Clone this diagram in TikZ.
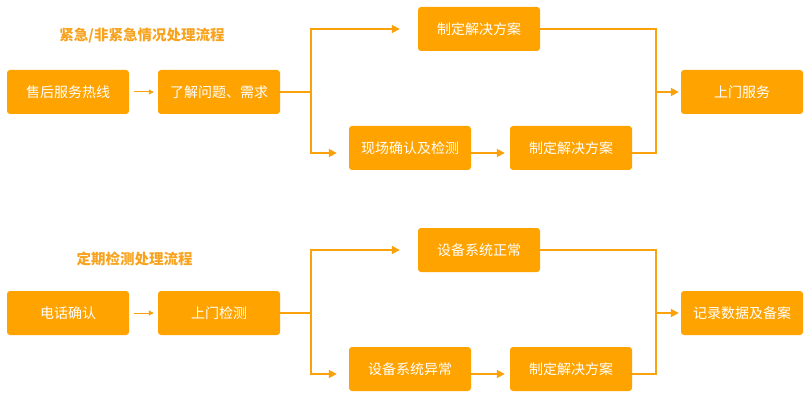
\documentclass[tikz,border=0pt]{standalone}
\usepackage{fontspec}
\setmainfont{Noto Sans CJK SC}
\usetikzlibrary{arrows.meta}
\definecolor{boxorange}{HTML}{FFA300}
\definecolor{lineorange}{HTML}{F9A20C}
\definecolor{titleorange}{HTML}{F7A320}

\begin{document}
\begin{tikzpicture}[x=1pt,y=-1pt,>={Triangle[length=8pt,width=8pt]},
  box/.style={rectangle,rounded corners=3pt,fill=boxorange,text=white,minimum width=122pt,minimum height=44pt,inner sep=0pt,font=\fontsize{14}{17}\selectfont},
  heading/.style={text=titleorange,font=\fontsize{14.5}{17}\selectfont\bfseries},
  link/.style={draw=lineorange,line width=1.8pt},
  thin link/.style={draw=lineorange,line width=1pt,-{Triangle[length=5pt,width=5pt]}}]
  \useasboundingbox (0,0) rectangle (810,398);
  % first flow
  \node[heading] (t1) at (142,36) {紧急/非紧急情况处理流程};
  \node[box] (a1) at (68,92) {售后服务热线};
  \node[box] (a2) at (219,92) {了解问题、需求};
  \node[box] (a3) at (479,29) {制定解决方案};
  \node[box] (a4) at (410,148) {现场确认及检测};
  \node[box] (a5) at (571,148) {制定解决方案};
  \node[box] (a6) at (742,92) {上门服务};
  \coordinate (a4in) at ([yshift=-5pt]a4.west);
  \coordinate (a4out) at ([yshift=-5pt]a4.east);
  \coordinate (a5in) at ([yshift=-5pt]a5.west);
  \coordinate (a5out) at ([yshift=-5pt]a5.east);
  \coordinate (s1) at (311,92);
  \coordinate (m1) at (656,92);
  \draw[thin link,shorten <=5pt,shorten >=4pt] (a1) -- (a2);
  \draw[link] (a2.east) -- (s1);
  \draw[link,->,shorten >=18pt] (s1) |- (a3.west);
  \draw[link,->,shorten >=12pt] (s1) |- (a4in);
  \draw[link,->,shorten >=5pt] (a4out) -- (a5in);
  \draw[link] (a3.east) -| (m1);
  \draw[link] (a5out) -| (m1);
  \draw[link,->,shorten >=2pt] (m1) -- (a6.west);
  % second flow
  \node[heading] (t2) at (134.5,259) {定期检测处理流程};
  \node[box] (b1) at (68,313) {电话确认};
  \node[box] (b2) at (219,313) {上门检测};
  \node[box] (b3) at (479,250) {设备系统正常};
  \node[box] (b4) at (410,369) {设备系统异常};
  \node[box] (b5) at (571,369) {制定解决方案};
  \node[box] (b6) at (742,313) {记录数据及备案};
  \coordinate (b4in) at ([yshift=-5pt]b4.west);
  \coordinate (b4out) at ([yshift=-5pt]b4.east);
  \coordinate (b5in) at ([yshift=-5pt]b5.west);
  \coordinate (b5out) at ([yshift=-5pt]b5.east);
  \coordinate (s2) at (311,313);
  \coordinate (m2) at (656,313);
  \draw[thin link,shorten <=5pt,shorten >=4pt] (b1) -- (b2);
  \draw[link] (b2.east) -- (s2);
  \draw[link,->,shorten >=18pt] (s2) |- (b3.west);
  \draw[link,->,shorten >=12pt] (s2) |- (b4in);
  \draw[link,->,shorten >=5pt] (b4out) -- (b5in);
  \draw[link] (b3.east) -| (m2);
  \draw[link] (b5out) -| (m2);
  \draw[link,->,shorten >=2pt] (m2) -- (b6.west);
\end{tikzpicture}
\end{document}
